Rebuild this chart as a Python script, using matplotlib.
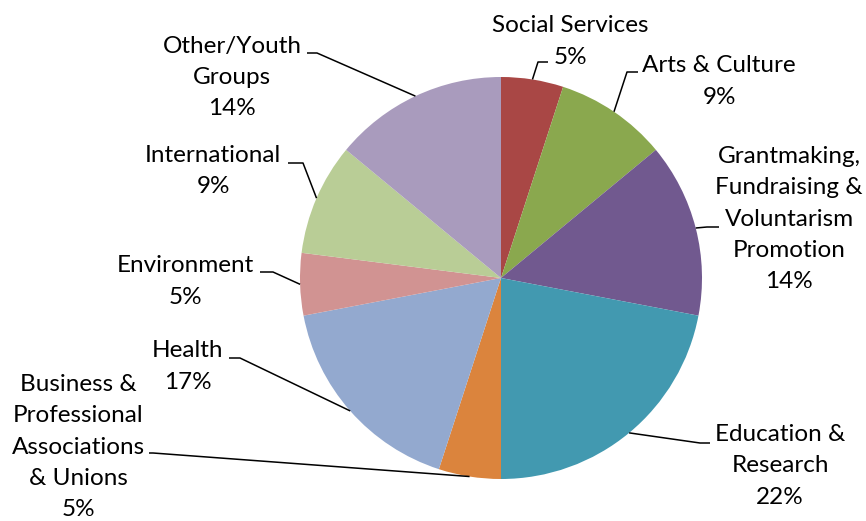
import numpy as np
import matplotlib.pyplot as plt

# Data (clockwise from 12 o'clock)
categories = ['Social Services', 'Arts & Culture',
              'Grantmaking,\nFundraising &\nVoluntarism\nPromotion',
              'Education &\nResearch',
              'Business &\nProfessional\nAssociations\n& Unions',
              'Health', 'Environment', 'International', 'Other/Youth\nGroups']
shares = [5, 9, 14, 22, 5, 17, 5, 9, 14]
colors = ['#A94745', '#8AA84E', '#71598F', '#4299B0', '#DB843D',
          '#93A9CF', '#D19392', '#B9CD96', '#A99BBD']

# layout in pixel units (y grows downward)
W, H = 866, 521
cx, cy, R = 501, 278, 201
label_xy = [(570, 41.5), (719, 81.5), (789, 219), (780, 466), (78, 447),
            (188, 366.5), (185, 281.5), (213, 171), (232, 77.5)]
# elbow of each leader line, then end of its short horizontal part
elbows = [((538, 62), (548, 62)), ((627, 72), (638, 72)),
          ((707, 227), (719, 227)), ((700, 443), (710, 443)),
          ((153, 453), (149, 453)), ((240, 358), (229, 358)),
          ((273, 272), (260, 272)), ((303, 163), (288, 163)),
          ((317, 53), (307, 53))]

plt.rcParams['font.family'] = ['Lato', 'DejaVu Sans']

fig = plt.figure(figsize=(W / 100, H / 100), dpi=100)
ax = fig.add_axes([0, 0, 1, 1])

# y axis is inverted, so counterclock in data space is clockwise on screen
wedges, _ = ax.pie(shares, colors=colors, startangle=270, counterclock=True,
                   radius=R, center=(cx, cy),
                   wedgeprops=dict(linewidth=0))
ax.set_xlim(0, W)
ax.set_ylim(H, 0)
ax.set_aspect('equal')
ax.axis('off')

for w, cat, s, (tx, ty), (e1, e2) in zip(wedges, categories, shares,
                                         label_xy, elbows):
    a = np.deg2rad((w.theta1 + w.theta2) / 2)
    px, py = cx + R * np.cos(a), cy + R * np.sin(a)
    ax.plot([px, e1[0], e2[0]], [py, e1[1], e2[1]], color='black', lw=1.1,
            solid_capstyle='butt')
    ax.text(tx, ty, f'{cat}\n{s}%', ha='center', va='center',
            multialignment='center', fontsize=17.5, linespacing=1.6,
            color='black')

fig.savefig('out.png', dpi=100)
